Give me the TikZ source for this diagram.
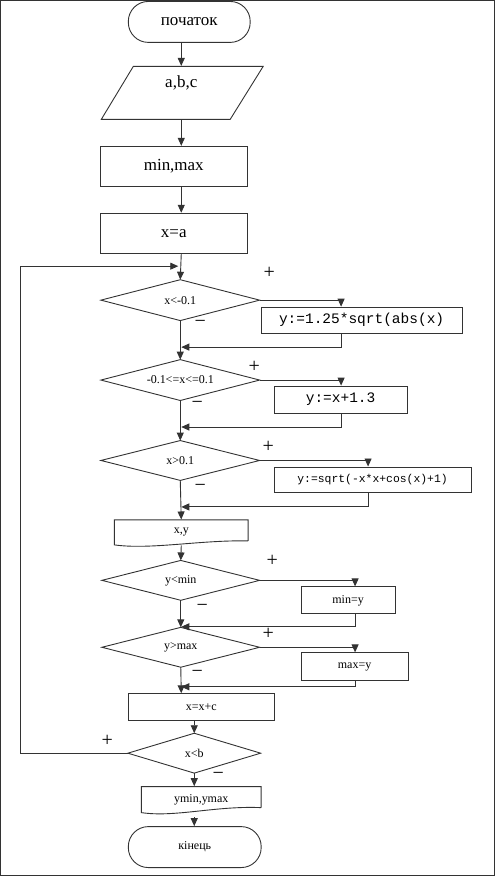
\documentclass[tikz,border=0pt]{standalone}
\usepackage{fontspec}
\setmainfont{Liberation Serif}
\newfontfamily\monof{Liberation Mono}
\usetikzlibrary{arrows.meta,calc}
\begin{document}
\begin{tikzpicture}[x=1pt,y=-1pt,line width=0.9pt,
  every path/.style={draw=black!80},
  arr/.style={-{Triangle[length=8pt,width=7pt]}},
  big/.style={font=\fontsize{17}{19}\selectfont},
  small/.style={font=\fontsize{12}{14}\selectfont},
  term/.style={draw=black!80,rectangle,rounded corners=20pt,inner sep=0pt,big},
  procbox/.style={draw=black!80,rectangle,inner sep=0pt},
  ghost/.style={rectangle,inner sep=0pt},
  sign/.style={font=\fontsize{20}{20}\selectfont,inner sep=0pt}]
\useasboundingbox (0,0) rectangle (494,876);
\coordinate (col) at (181,0);
\coordinate (col2) at (194,0);

% start
\node[term,minimum width=122pt,minimum height=41pt] (start) at (189,21.5) {початок};

% input parallelogram
\node[ghost,minimum width=162pt,minimum height=53pt] (abc) at (182,92.5) {};
\draw (133,66) -- (263,66) -- (230,119) -- (101,119) -- cycle;
\node[big,inner sep=0pt] (abct) at (181,83) {a,b,c};

\node[procbox,big,minimum width=147pt,minimum height=40pt] (minmax) at (173.5,166) {min,max};
\node[procbox,big,minimum width=147pt,minimum height=40pt] (xa) at (173.5,233) {x=a};

% diamonds
\node[ghost,small,minimum width=158pt,minimum height=40pt] (d1) at (180,300) {x<-0.1};
\node[ghost,small,minimum width=158pt,minimum height=40pt] (d2) at (180,380) {-0.1<=x<=0.1};
\node[ghost,small,minimum width=158pt,minimum height=39pt] (d3) at (180,460.5) {x>0.1};
\node[ghost,small,minimum width=157pt,minimum height=39pt] (d4) at (180.5,580.5) {y<min};
\node[ghost,small,minimum width=157pt,minimum height=39pt] (d5) at (180.5,647.5) {y>max};
\node[ghost,small,minimum width=132pt,minimum height=39pt] (d6) at (194,753.5) {x<b};
\foreach \d in {d1,d2,d3,d4,d5,d6}
  \draw (\d.north) -- (\d.east) -- (\d.south) -- (\d.west) -- cycle;

% right boxes
\node[procbox,minimum width=201pt,minimum height=26pt,font=\monof\fontsize{14.5}{16}\selectfont] (b1) at (361.5,320) {y:=1.25*sqrt(abs(x)};
\node[procbox,minimum width=133pt,minimum height=27pt,font=\monof\fontsize{14.5}{16}\selectfont] (b2) at (340.5,399.5) {y:=x+1.3};
\node[procbox,minimum width=197pt,minimum height=26pt,font=\monof\fontsize{11.4}{13}\selectfont] (b3) at (372.5,480) {y:=sqrt(-x*x+cos(x)+1)};
\node[procbox,small,minimum width=94pt,minimum height=27pt] (bmin) at (348,600.5) {min=y};
\node[procbox,small,minimum width=107pt,minimum height=28pt] (bmax) at (354.5,667) {max=y};

% output x,y
\node[ghost,small,minimum width=134pt,minimum height=25pt] (xy) at (181,532.5) {x,y};
\draw (248,541) -- (248,520) -- (114,520) -- (114,545) .. controls (150,550) and (200,540) .. (248,541);

\node[procbox,small,minimum width=146pt,minimum height=27pt] (xxc) at (201,707.5) {x=x+c};

% output ymin,ymax
\node[ghost,small,minimum width=120pt,minimum height=26pt] (ym) at (201,800) {ymin,ymax};
\draw (261,808) -- (261,787) -- (141,787) -- (141,813) .. controls (175,818) and (215,806) .. (261,808);

\node[term,small,minimum width=133pt,minimum height=41pt] (end) at (194.5,847.5) {кінець};

% main column connectors
\draw[arr] (start.south -| col) -- (abc.north -| col);
\draw[arr] (abc.south -| col) -- (minmax.north -| col);
\draw[arr] (minmax.south -| col) -- (xa.north -| col);
\draw[arr] (xa.south -| col) -- (d1.north);

% branches
\coordinate (j1) at (181,347);
\coordinate (j2) at (181,427);
\coordinate (j3) at (181,507);
\coordinate (j4) at (181,627);
\coordinate (j5) at (181,687);
\draw[arr] (d1.east) -- (d1.east -| 341,0) -- (b1.north -| 341,0);
\draw[arr] (b1.south -| 341,0) -- (341,347) -- (j1);
\draw[arr] (d1.south) -- (d2.north);
\draw[arr] (d2.east) -- (d2.east -| 341,0) -- (b2.north -| 341,0);
\draw[arr] (b2.south -| 341,0) -- (341,427) -- (j2);
\draw[arr] (d2.south) -- (d3.north);
\draw[arr] (d3.east) -- (d3.east -| 368,0) -- (b3.north -| 368,0);
\draw[arr] (b3.south -| 368,0) -- (368,507) -- (j3);
\draw[arr] (d3.south) -- (xy.north);
\draw[arr] (xy.south) -- (d4.north);
\draw[arr] (d4.east) -- (d4.east -| 355,0) -- (bmin.north -| 355,0);
\draw[arr] (bmin.south -| 355,0) -- (355,627) -- (j4);
\draw[arr] (d4.south) -- (d5.north);
\draw[arr] (d5.east) -- (d5.east -| 355,0) -- (bmax.north -| 355,0);
\draw[arr] (bmax.south -| 355,0) -- (355,687) -- (j5);
\draw[arr] (d5.south) -- (xxc.north -| col);
\draw[arr] (xxc.south -| col2) -- (d6.north);
\draw[arr] (d6.south) -- (ym.north -| col2);
\draw[arr] (ym.south -| col2) ++(0,4) -- (end.north -| col2);
% loop back
\draw[arr] (d6.west) -- (20,753.5) -- (20,266) -- (178,266);

% signs
\node[sign] (p1) at (269,273) {+};
\node[sign] (m1) at (200,324) {−};
\node[sign] (p2) at (254,367) {+};
\node[sign] (m2) at (197,405) {−};
\node[sign] (p3) at (268,447) {+};
\node[sign] (m3) at (200,488) {−};
\node[sign] (p4) at (272,561) {+};
\node[sign] (m4) at (202,608) {−};
\node[sign] (p5) at (268,634) {+};
\node[sign] (m5) at (197,674) {−};
\node[sign] (p6) at (107,741) {+};
\node[sign] (m6) at (218,776) {−};
\end{tikzpicture}
\end{document}
